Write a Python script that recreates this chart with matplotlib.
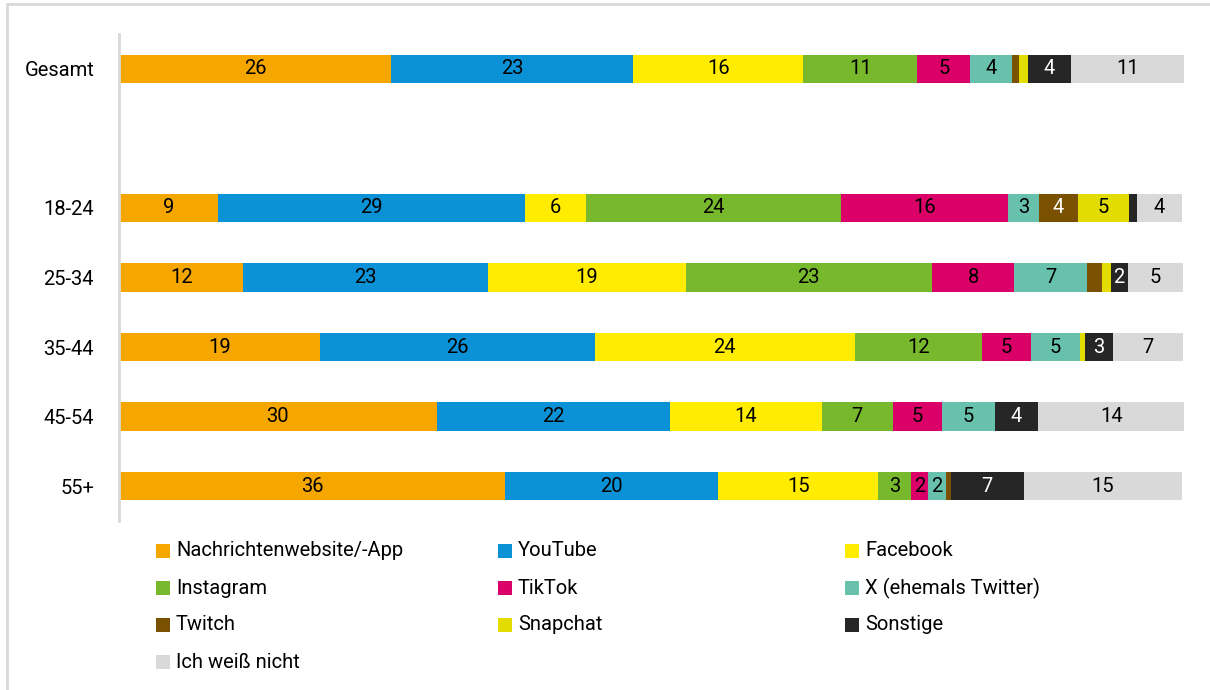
import matplotlib.pyplot as plt
import numpy as np
from matplotlib.patches import Rectangle

plt.rcParams['font.family'] = ['Roboto', 'DejaVu Sans']

groups = ['Gesamt', '18-24', '25-34', '35-44', '45-54', '55+']
ypos = [0, 2, 3, 4, 5, 6]

categories = ['Nachrichtenwebsite/-App', 'YouTube', 'Facebook', 'Instagram', 'TikTok',
              'X (ehemals Twitter)', 'Twitch', 'Snapchat', 'Sonstige', 'Ich weiß nicht']
colors = ['#F5A700', '#0A91D6', '#FFEC00', '#78B82C', '#DB0068',
          '#67C1AC', '#7A5100', '#E2DC00', '#262626', '#D9D9D9']
text_colors = ['black'] * 6 + ['white', 'black', 'white', 'black']

# shares in percent, rows = groups, columns = categories
nachrichten = [25.6, 9.3, 11.7, 18.9, 29.9, 36.3]
youtube     = [22.8, 28.9, 23.0, 25.9, 21.9, 20.1]
facebook    = [16.0, 5.7, 18.6, 24.4, 14.3, 15.0]
instagram   = [10.7, 24.0, 23.2, 12.0, 6.7, 3.1]
tiktok      = [5.0, 15.7, 7.7, 4.6, 4.6, 1.6]
x_twitter   = [3.9, 3.0, 6.9, 4.6, 5.0, 1.7]
twitch      = [0.7, 3.6, 1.4, 0.0, 0.0, 0.5]
snapchat    = [0.8, 4.8, 0.8, 0.5, 0.0, 0.0]
sonstige    = [4.1, 0.8, 1.6, 2.6, 4.1, 6.8]
weiss_nicht = [10.6, 4.2, 5.2, 6.6, 13.7, 14.9]

series = [nachrichten, youtube, facebook, instagram, tiktok,
          x_twitter, twitch, snapchat, sonstige, weiss_nicht]

W, H = 1210, 690
fig = plt.figure(figsize=(W / 100, H / 100), dpi=100)
ax = fig.add_axes([119 / W, 1 - 521 / H, (1184 - 119) / W, (521 - 34) / H])

left = np.zeros(len(groups))
for vals, col, tcol in zip(series, colors, text_colors):
    vals = np.array(vals)
    ax.barh(ypos, vals, left=left, height=0.41, color=col, edgecolor='none')
    for y, l, v in zip(ypos, left, vals):
        if v >= 1.5:
            ax.text(l + v / 2, y, f'{v:.0f}', ha='center', va='center',
                    fontsize=14.5, color=tcol)
    left += vals

ax.set_xlim(0, left.max())
ax.set_ylim(6.5, -0.5)
ax.set_yticks(ypos)
ax.set_yticklabels(groups, fontsize=14.5)
ax.tick_params(axis='y', length=0, pad=18)
ax.set_xticks([])
for s in ['top', 'right', 'bottom']:
    ax.spines[s].set_visible(False)
ax.spines['left'].set_color('#D9D9D9')
ax.spines['left'].set_linewidth(2)

# legend, filled row by row
col_x = [156, 498, 845]
for i, (name, col) in enumerate(zip(categories, colors)):
    r, c = divmod(i, 3)
    yc = 551 + r * 37
    fig.add_artist(Rectangle((col_x[c] / W, 1 - (yc + 7) / H), 14 / W, 14 / H,
                             transform=fig.transFigure, color=col, lw=0))
    fig.text((col_x[c] + 20) / W, 1 - yc / H, name, fontsize=14.5, va='center', ha='left')

# light frame
fig.add_artist(Rectangle((7 / W, -0.05), 1.1, 1 - 4 / H + 0.05, transform=fig.transFigure,
                         fill=False, edgecolor='#D9D9D9', lw=2))

fig.savefig('out.png', dpi=100)
